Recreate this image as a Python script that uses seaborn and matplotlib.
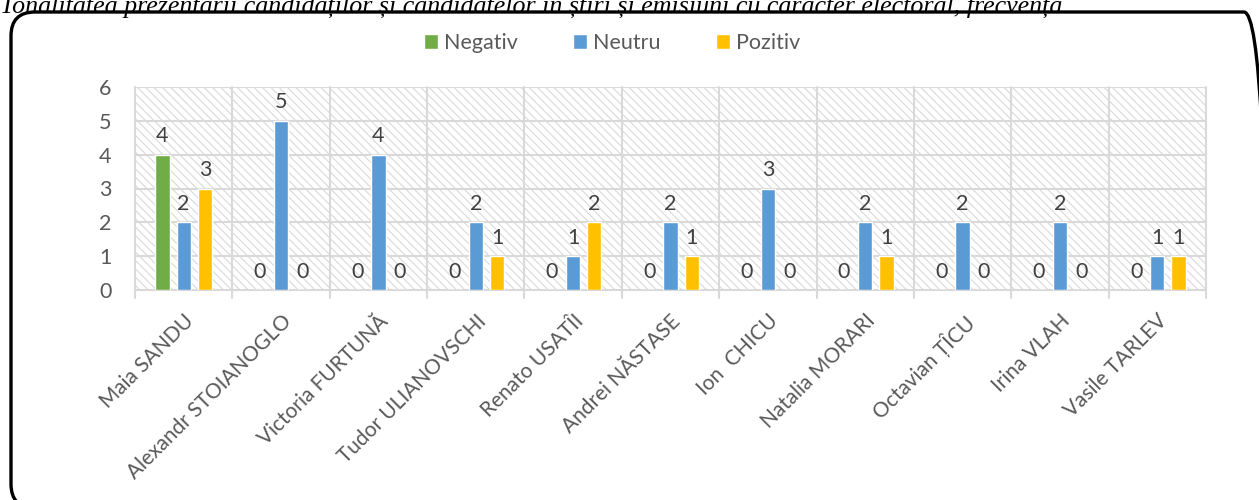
import matplotlib
matplotlib.use("Agg")
import matplotlib.pyplot as plt
import matplotlib.transforms as mtransforms
import seaborn as sns
import pandas as pd
from matplotlib.patches import FancyBboxPatch, Rectangle

candidates = ["Maia SANDU", "Alexandr STOIANOGLO", "Victoria FURTUNĂ", "Tudor ULIANOVSCHI",
              "Renato USATÎI", "Andrei NĂSTASE", "Ion  CHICU", "Natalia MORARI",
              "Octavian ȚÎCU", "Irina VLAH", "Vasile TARLEV"]
negativ = [4, 0, 0, 0, 0, 0, 0, 0, 0, 0, 0]
neutru = [2, 5, 4, 2, 1, 2, 3, 2, 2, 2, 1]
pozitiv = [3, 0, 0, 1, 2, 1, 0, 1, 0, 0, 1]
series_names = ["Negativ", "Neutru", "Pozitiv"]
colors = ["#70AD47", "#5B9BD5", "#FFC000"]
title = "Tonalitatea prezentării candidaților și candidatelor în știri și emisiuni cu caracter electoral, frecvența"

rows = []
for name, vals in zip(series_names, [negativ, neutru, pozitiv]):
    for c, v in zip(candidates, vals):
        rows.append({"cand": c, "val": v, "ton": name})
df = pd.DataFrame(rows)

sns.set_theme(style="white")
plt.rcParams["font.family"] = ["Lato", "DejaVu Sans"]
TXT = "#595959"
GRID = "#D9D9D9"
plt.rcParams["hatch.linewidth"] = 0.8
plt.rcParams["hatch.color"] = GRID

W, H = 1259, 500
fig = plt.figure(figsize=(W / 100, H / 100), dpi=100)
ax = fig.add_axes([135 / W, 1 - 290 / H, (1206 - 135) / W, (290 - 87) / H])

# hatched background
bg = Rectangle((0, 0), 1, 1, transform=ax.transAxes, facecolor="white",
               edgecolor=GRID, hatch="\\\\\\\\", linewidth=0, zorder=0)
ax.add_patch(bg)
ax.set_facecolor("white")

sns.barplot(data=df, x="cand", y="val", hue="ton", palette=colors, width=0.654,
            gap=0.33, ax=ax, saturation=1, zorder=3, legend=True)

ax.set_ylim(0, 6)
ax.set_xlim(-0.5, len(candidates) - 0.5)
ax.set_yticks(range(0, 7))
for y in range(1, 7):
    ax.axhline(y, color=GRID, lw=1.5, zorder=1)
for x in range(len(candidates) + 1):
    ax.plot([x - 0.5, x - 0.5], [-0.25, 6], color=GRID, lw=1.5, zorder=1, clip_on=False)
for s in ["top", "right", "left"]:
    ax.spines[s].set_visible(False)
ax.spines["bottom"].set_color(GRID)
ax.spines["bottom"].set_linewidth(1.5)
ax.spines["bottom"].set_zorder(2)

ax.set_xlabel("")
ax.set_ylabel("")
ax.tick_params(axis="y", length=0, pad=17, labelsize=15.5, labelcolor=TXT)
ax.tick_params(axis="x", length=0, pad=15, labelsize=15, labelcolor=TXT)
plt.setp(ax.get_xticklabels(), rotation=45, ha="right", rotation_mode="anchor")

for cont in ax.containers:
    ax.bar_label(cont, fmt="%g", padding=6, fontsize=15.5, color="#404040")

leg = ax.legend(loc="center", bbox_to_anchor=(612 / W, 1 - 43 / H), bbox_transform=fig.transFigure,
                ncol=3, frameon=False, fontsize=15.5, handlelength=0.65, handleheight=0.65,
                handletextpad=0.25, columnspacing=2.6)
for t in leg.get_texts():
    t.set_color(TXT)

# rounded border (pixel coordinates, origin bottom-left)
border = FancyBboxPatch((11, -8), 1268 - 11, (H - 12) + 8,
                        boxstyle="round,pad=0,rounding_size=24",
                        transform=mtransforms.IdentityTransform(), facecolor="none",
                        edgecolor="black", linewidth=2.4, clip_on=False)
fig.patches.append(border)

fig.text(0.0, 1 - 13 / H, title, family=["Liberation Serif"], style="italic",
         fontsize=18.7, color="black", va="baseline", ha="left")

fig.savefig("out.png", dpi=100)
